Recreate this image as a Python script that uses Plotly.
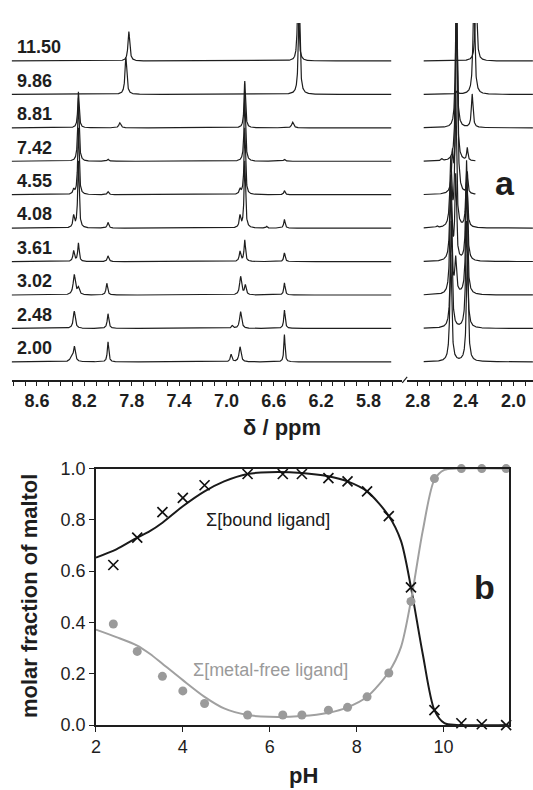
import numpy as np
import plotly.graph_objects as go

W, H = 533, 790

# ---------------- panel a : 1H NMR spectra (peaks: ppm, height in trace-spacing units, half-width ppm)
spectrum_labels = ["11.50", "9.86", "8.81", "7.42", "4.55", "4.08", "3.61", "3.02", "2.48", "2.00"]

left_11_50 = [(7.824, 0.88, 0.009), (6.395, 2.0, 0.008)]
right_11_50 = [(2.313, 2.0, 0.009)]
left_9_86 = [(7.849, 1.1, 0.009), (6.385, 3.0, 0.008)]
right_9_86 = [(2.47, 0.1, 0.008), (2.331, 3.0, 0.009)]
left_8_81 = [(8.25, 1.08, 0.007), (7.90, 0.15, 0.010), (6.845, 1.4, 0.007), (6.44, 0.17, 0.010)]
right_8_81 = [(2.478, 4.0, 0.008), (2.345, 1.0, 0.008)]
left_7_42 = [(8.25, 1.9, 0.007), (8.00, 0.06, 0.008), (6.845, 2.0, 0.007), (6.51, 0.06, 0.008)]
right_7_42 = [(2.599, 0.06, 0.008), (2.478, 5.0, 0.008), (2.386, 0.38, 0.006)]
left_4_55 = [(8.29, 0.14, 0.008), (8.25, 2.0, 0.007), (8.00, 0.09, 0.008),
             (6.885, 0.14, 0.008), (6.845, 2.0, 0.007), (6.51, 0.12, 0.007)]
right_4_55 = [(2.51, 1.1, 0.008), (2.474, 6.0, 0.008), (2.386, 0.65, 0.006)]
left_4_08 = [(8.29, 0.35, 0.008), (8.25, 2.0, 0.007), (8.00, 0.17, 0.008), (6.885, 0.35, 0.008),
             (6.845, 2.0, 0.007), (6.66, 0.05, 0.006), (6.51, 0.26, 0.007)]
right_4_08 = [(2.64, 0.05, 0.008), (2.524, 2.0, 0.009), (2.483, 4.0, 0.008), (2.392, 1.6, 0.008)]
left_3_61 = [(8.29, 0.32, 0.008), (8.25, 0.55, 0.007), (8.00, 0.17, 0.008),
             (6.885, 0.30, 0.008), (6.845, 0.64, 0.007), (6.51, 0.26, 0.007)]
right_3_61 = [(2.524, 2.5, 0.009), (2.483, 2.5, 0.008), (2.392, 3.0, 0.008)]
left_3_02 = [(8.285, 0.60, 0.011), (8.25, 0.20, 0.010), (8.01, 0.35, 0.008),
             (6.88, 0.55, 0.010), (6.84, 0.28, 0.008), (6.51, 0.36, 0.007)]
right_3_02 = [(2.524, 3.2, 0.009), (2.483, 1.0, 0.008), (2.392, 3.2, 0.009)]
left_2_48 = [(8.285, 0.52, 0.010), (8.00, 0.44, 0.008), (6.95, 0.08, 0.008),
             (6.88, 0.50, 0.010), (6.51, 0.55, 0.007)]
right_2_48 = [(2.52, 3.2, 0.009), (2.392, 3.2, 0.009)]
left_2_00 = [(8.31, 0.12, 0.012), (8.284, 0.45, 0.010), (8.00, 0.60, 0.007),
             (6.96, 0.22, 0.008), (6.885, 0.45, 0.010), (6.51, 0.82, 0.006)]
right_2_00 = [(2.524, 3.2, 0.009), (2.386, 3.2, 0.009)]

left_peaks = [left_11_50, left_9_86, left_8_81, left_7_42, left_4_55,
              left_4_08, left_3_61, left_3_02, left_2_48, left_2_00]
right_peaks = [right_11_50, right_9_86, right_8_81, right_7_42, right_4_55,
               right_4_08, right_3_61, right_3_02, right_2_48, right_2_00]
right_end = [1.837, 1.837, 1.837, 2.317, 2.317, 1.837, 1.837, 1.837, 1.837, 1.837]

left_range = [8.814, 5.515]
right_range = [2.888, 1.837]
left_span = [8.814, 5.607]
right_start = 2.75

# ---------------- panel b : speciation
ph_points = [2.40, 2.95, 3.53, 4.00, 4.50, 5.49, 6.30, 6.74, 7.35, 7.79, 8.24, 8.74, 9.25, 9.79, 10.41, 10.88, 11.44]
bound_points = [0.624, 0.731, 0.830, 0.886, 0.935, 0.979, 0.979, 0.979, 0.963, 0.950, 0.911, 0.815, 0.537, 0.058, 0.007, 0.003, 0.0]
free_points = [0.394, 0.287, 0.190, 0.133, 0.084, 0.039, 0.039, 0.039, 0.058, 0.069, 0.110, 0.203, 0.482, 0.961, 1.0, 1.0, 1.0]

ph_curve = [2.0, 2.47, 2.95, 3.24, 3.53, 4.0, 4.5, 4.95, 5.49, 5.99, 6.74, 7.35, 7.79, 8.24, 8.74, 9.02, 9.25, 9.52, 9.79, 10.02, 10.3, 11.5]
bound_curve = [0.653, 0.685, 0.731, 0.756, 0.789, 0.853, 0.911, 0.950, 0.979, 0.986, 0.983, 0.970, 0.950, 0.911, 0.815, 0.718, 0.537, 0.278, 0.058, 0.007, 0.0, 0.0]
free_curve = [0.372, 0.343, 0.310, 0.278, 0.239, 0.175, 0.110, 0.065, 0.039, 0.032, 0.035, 0.048, 0.069, 0.110, 0.207, 0.304, 0.485, 0.756, 0.957, 0.995, 1.0, 1.0]


def px(x):
    return x / W


def py(y):
    return 1 - y / H


def lorentz(x, peaks):
    y = np.zeros_like(x)
    for p, h, w in peaks:
        y += h * w ** 2 / ((x - p) ** 2 + w ** 2)
    return y


FONT = "Liberation Sans"
INK = "#1e1e1e"
fig = go.Figure()

n = len(spectrum_labels)
for i, lab in enumerate(spectrum_labels):
    off = n - 1 - i
    xl = np.arange(left_span[0], left_span[1], -0.001)
    fig.add_trace(go.Scatter(x=xl, y=off + lorentz(xl, left_peaks[i]), mode="lines",
                             line=dict(color=INK, width=1.2), xaxis="x", yaxis="y",
                             showlegend=False, hoverinfo="skip"))
    xr = np.arange(right_start, right_end[i], -0.001)
    fig.add_trace(go.Scatter(x=xr, y=off + lorentz(xr, right_peaks[i]), mode="lines",
                             line=dict(color=INK, width=1.2), xaxis="x2", yaxis="y2",
                             showlegend=False, hoverinfo="skip"))

# panel b traces
fig.add_trace(go.Scatter(x=ph_curve, y=bound_curve, mode="lines", line=dict(color="#1a1a1a", width=2, shape="spline", smoothing=0.8),
                         xaxis="x3", yaxis="y3", showlegend=False))
fig.add_trace(go.Scatter(x=ph_curve, y=free_curve, mode="lines", line=dict(color="#a0a0a0", width=2, shape="spline", smoothing=0.8),
                         xaxis="x3", yaxis="y3", showlegend=False))
fig.add_trace(go.Scatter(x=ph_points, y=bound_points, mode="markers", cliponaxis=False,
                         marker=dict(symbol="x-thin", size=10, line=dict(width=1.7, color="#111")),
                         xaxis="x3", yaxis="y3", showlegend=False))
fig.add_trace(go.Scatter(x=ph_points, y=free_points, mode="markers", cliponaxis=False,
                         marker=dict(symbol="circle", size=9, color="#9a9a9a"),
                         xaxis="x3", yaxis="y3", showlegend=False))

ytop_dom = [py(379.5), py(13.3)]
yrange_top = [-0.539, 10.137]
top_axis = dict(showline=True, linecolor=INK, linewidth=1.5, ticks="outside", ticklen=4, tickwidth=1.2,
                tickcolor=INK, tickformat=".1f", dtick=0.4, showgrid=False, zeroline=False,
                tickfont=dict(family=FONT, size=18, color=INK, weight="bold"),
                minor=dict(dtick=0.1, ticks="outside", ticklen=4, tickwidth=1.2, tickcolor=INK, showgrid=False))

fig.update_layout(
    width=W, height=H, autosize=False,
    margin=dict(l=0, r=0, t=0, b=0),
    paper_bgcolor="white", plot_bgcolor="white",
    xaxis=dict(domain=[px(6.7), px(401)], range=left_range, anchor="y", tick0=0.2, **top_axis),
    yaxis=dict(domain=ytop_dom, range=yrange_top, visible=False, anchor="x"),
    xaxis2=dict(domain=[px(406), 1.0], range=right_range, anchor="y2", tick0=0.0, **top_axis),
    yaxis2=dict(domain=ytop_dom, range=yrange_top, visible=False, anchor="x2"),
    xaxis3=dict(domain=[px(91.8), px(508.5)], range=[2, 11.5], anchor="y3", showline=True, mirror=True,
                linecolor=INK, linewidth=1.5, ticks="outside", ticklen=5, tickcolor=INK, dtick=2, tick0=2,
                showgrid=False, zeroline=False, tickfont=dict(family=FONT, size=18, color=INK)),
    yaxis3=dict(domain=[py(733.6), py(470.5)], range=[0, 1.0], anchor="x3", showline=True, mirror=True,
                linecolor=INK, linewidth=1.5, ticks="outside", ticklen=5, tickcolor=INK, dtick=0.2,
                tickformat=".1f", showgrid=False, zeroline=False, tickfont=dict(family=FONT, size=18, color=INK)),
)


def note(text, x, y, size, color=INK, angle=0):
    return dict(text=text, x=px(x), y=py(y), xref="paper", yref="paper", showarrow=False,
                xanchor="center", yanchor="middle", textangle=angle,
                font=dict(family=FONT, size=size, color=color))


ann = []
for i, lab in enumerate(spectrum_labels):
    off = n - 1 - i
    ann.append(dict(text=f"<b>{lab}</b>", x=px(10), xref="paper", y=off + 0.41, yref="y", xanchor="left",
                    yanchor="middle", showarrow=False, font=dict(family=FONT, size=18, color=INK)))
ann += [
    note("<b>a</b>", 505, 177, 34),
    note("<b>δ / ppm</b>", 280, 428, 22),
    note("<b>b</b>", 484, 592, 34),
    note("Σ[bound ligand]", 265, 523, 18, "#1a1a1a"),
    note("Σ[metal-free ligand]", 268, 677, 18, "#9a9a9a"),
    note("<b>molar fraction of maltol</b>", 25.5, 601, 22, INK, -90),
    note("<b>pH</b>", 301, 785, 22),
]
fig.update_layout(annotations=ann)

# axis break mark
fig.add_shape(type="line", xref="paper", yref="paper", x0=px(401), y0=py(382.5), x1=px(406), y1=py(376.5),
              line=dict(color=INK, width=1.2))

fig.write_html("out.html")
